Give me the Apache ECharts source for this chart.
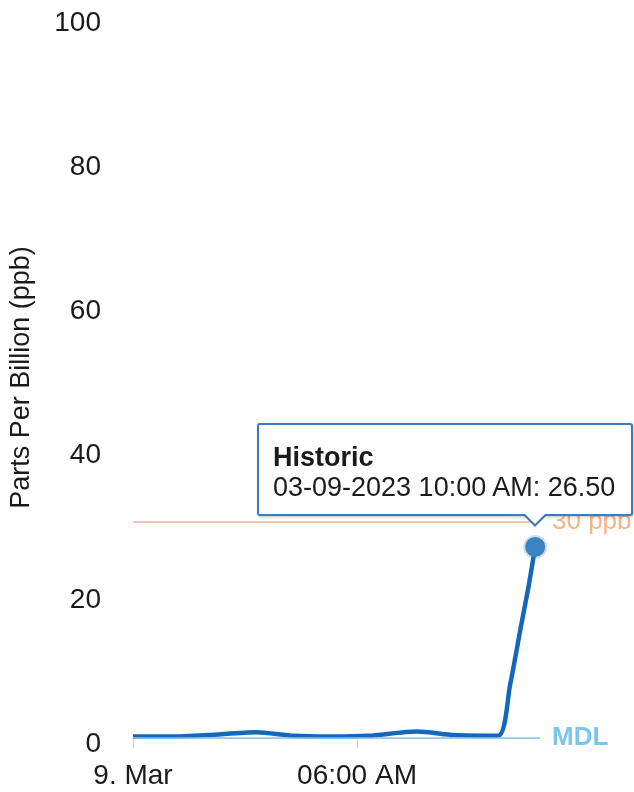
<!DOCTYPE html>
<html>
<head>
<meta charset="utf-8">
<script src="https://cdn.jsdelivr.net/npm/echarts@6/dist/echarts.min.js"></script>
<style>
  html, body { margin: 0; padding: 0; background: #fff; overflow: hidden; }
  #chart { width: 634px; height: 792px; }
  .tip::before, .tip::after {
    content: ''; position: absolute; width: 0; height: 0;
    border-left: 12px solid transparent; border-right: 12px solid transparent;
  }
  .tip::before { left: 264px; bottom: -13px; border-top: 12px solid #3a7dbd; }
  .tip::after { left: 266px; bottom: -10px; border-left-width: 10px; border-right-width: 10px; border-top: 10px solid #fff; }
</style>
</head>
<body>
<div id="chart"></div>
<script>
// hours after midnight, 9 Mar 2023
var hours  = [0, 1, 2, 3.3, 4.3, 5.3, 6.3, 7.6, 8.6, 9.78, 10.1, 10.38, 10.6, 10.77];
var values = [0.2, 0.2, 0.4, 0.8, 0.3, 0.2, 0.3, 0.9, 0.4, 0.3, 7.4, 15.2, 21.2, 26.5];
var tipTimes = ['', '', '', '', '', '', '', '', '', '', '', '', '', '03-09-2023 10:00 AM'];
var tickHours  = [0, 6];
var tickLabels = ['9. Mar', '06:00 AM'];
var yTicks = [0, 20, 40, 60, 80, 100];
var seriesName = 'Historic';
var limitValue = 30, limitLabel = '30 ppb';
var mdlValue = 0, mdlLabel = 'MDL';

var font = 'Liberation Sans, Arial, sans-serif';
var chart = echarts.init(document.getElementById('chart'));

var points = hours.map(function (h, i) { return [h, values[i]]; });

chart.setOption({
  animation: false,
  grid: { left: 131, right: 94, top: 17, bottom: 54 },
  tooltip: {
    trigger: 'axis',
    axisPointer: { type: 'none' },
    triggerOn: 'none',
    alwaysShowContent: true,
    transitionDuration: 0,
    className: 'tip',
    backgroundColor: '#fff',
    borderColor: '#3a7dbd',
    borderWidth: 2,
    padding: [17, 14, 12, 14],
    textStyle: { fontFamily: font, fontSize: 27, color: '#1a1a1a' },
    extraCssText: 'width:376px;box-sizing:border-box;border-radius:3px;line-height:30px;box-shadow:1px 1px 3px rgba(0,0,0,0.25);',
    position: function (pt) { return [pt[0] - 278, pt[1] - 124]; },
    formatter: function (ps) {
      var p = Array.isArray(ps) ? ps[0] : ps;
      return '<b>' + p.seriesName + '</b><br>' + tipTimes[p.dataIndex] + ': ' + p.value[1].toFixed(2);
    }
  },
  xAxis: {
    type: 'value',
    min: 0,
    max: 10.9,
    interval: 6,
    splitLine: { show: false },
    axisLine: { lineStyle: { color: '#ccd6eb' } },
    axisTick: { length: 10, lineStyle: { color: '#ccd6eb' } },
    axisLabel: {
      showMaxLabel: false,
      margin: 24,
      fontFamily: font, fontSize: 28, color: '#1a1a1a',
      formatter: function (v) { var k = tickHours.indexOf(v); return k >= 0 ? tickLabels[k] : ''; }
    }
  },
  yAxis: {
    type: 'value',
    min: yTicks[0],
    max: yTicks[yTicks.length - 1],
    interval: 20,
    name: 'Parts Per Billion (ppb)',
    nameLocation: 'middle',
    nameGap: 98,
    nameTextStyle: { fontFamily: font, fontSize: 27, color: '#1a1a1a' },
    splitLine: { show: false },
    axisLine: { show: false },
    axisTick: { show: false },
    axisLabel: { margin: 32, verticalAlign: 'top', lineHeight: 12, fontFamily: font, fontSize: 28, color: '#1a1a1a' }
  },
  series: [{
    name: seriesName,
    type: 'line',
    data: points,
    showSymbol: false,
    smooth: 0.25,
    lineStyle: { color: '#1567b9', width: 4.5, join: 'round' },
    itemStyle: { color: '#1567b9' },
    emphasis: { disabled: true },
    markPoint: {
      symbol: 'circle',
      symbolSize: 20,
      label: { show: false },
      itemStyle: { color: '#3d82c2', borderColor: 'rgba(61,130,194,0.25)', borderWidth: 4 },
      data: [{ type: 'max' }]
    },
    markLine: {
      silent: true,
      symbol: 'none',
      data: [
        {
          yAxis: limitValue,
          lineStyle: { color: '#f3ae9a', width: 1.5, type: 'solid' },
          label: { formatter: limitLabel, position: 'end', distance: 12, color: '#f5b585', fontFamily: font, fontSize: 26 }
        },
        {
          yAxis: mdlValue,
          lineStyle: { color: '#86c9ec', width: 1.5, type: 'solid' },
          label: { formatter: mdlLabel, position: 'end', distance: 12, color: '#7cc6ee', fontFamily: font, fontSize: 26, fontWeight: 'bold' }
        }
      ]
    }
  }]
});

chart.dispatchAction({ type: 'showTip', seriesIndex: 0, dataIndex: values.length - 1 });
</script>
</body>
</html>
